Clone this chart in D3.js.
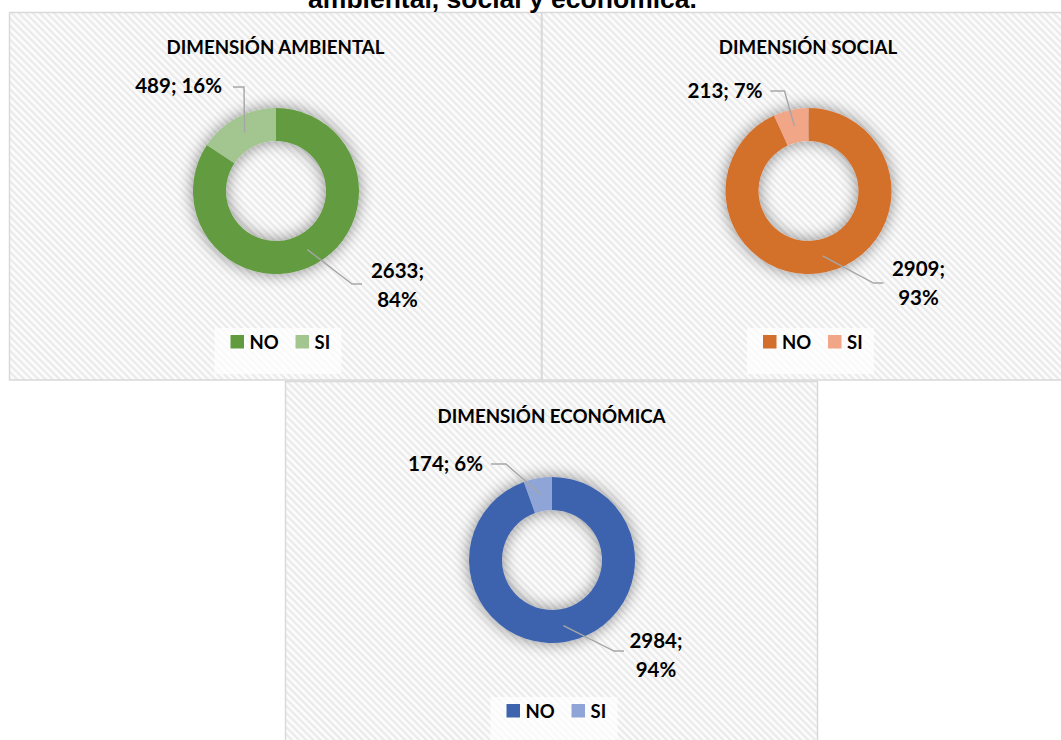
<!DOCTYPE html>
<html>
<head>
<meta charset="utf-8">
<script src="https://cdn.jsdelivr.net/npm/d3@7"></script>
<style>
  body { margin: 0; background: #fff; }
  #chart svg text { font-family: Lato, "Open Sans", sans-serif; font-weight: 700; fill: #000; }
  #chart svg text.page-title { font-family: "Liberation Sans", Arial, sans-serif; }
</style>
</head>
<body>
<div id="chart"></div>
<script>
// data
const pageTitle = "ambiental, social y económica.";
const dimensions = ["DIMENSIÓN AMBIENTAL", "DIMENSIÓN SOCIAL", "DIMENSIÓN ECONÓMICA"];
const categories = ["NO", "SI"];
const noValues = [2633, 2909, 2984];
const siValues = [489, 213, 174];

const palettes = [
    ["#629b3f", "#a3c590"],
    ["#d36f2c", "#f1a688"],
    ["#3e64ae", "#8fa5d7"]
];

// layout
const width = 1061, height = 740;
const panelW = 532, panelH = 367.5;
const panels = [{ x: 9.5, y: 12.5 }, { x: 542, y: 12.5 }, { x: 285.5, y: 381.5 }];
const centre = { x: 266.5, y: 178.5 };
const outerR = 83, innerR = 50;

// label positions relative to the donut centre (Excel placed them by hand)
const labelLayout = [
    { si: [-54, -98], siLine: [[-43, -104], [-32, -104]], no: [121.5, 87], noLine: [[76, 93], [86, 93]] },
    { si: [-46, -93], siLine: [[-38, -100], [-24, -100]], no: [110, 85], noLine: [[65, 92], [75, 92]] },
    { si: [-69, -89], siLine: [[-61, -96], [-46, -96]], no: [104, 88], noLine: [[62, 91], [72, 91]] }
];

const svg = d3.select("#chart").append("svg")
    .attr("width", width)
    .attr("height", height);

const defs = svg.append("defs");

// Excel "wide downward diagonal" background
const pattern = defs.append("pattern")
    .attr("id", "hatch")
    .attr("patternUnits", "userSpaceOnUse")
    .attr("width", 5)
    .attr("height", 5)
    .attr("patternTransform", "rotate(-45)");
pattern.append("rect").attr("width", 5).attr("height", 5).attr("fill", "#fcfcfc");
pattern.append("rect").attr("width", 2.2).attr("height", 5).attr("fill", "#eaeaea");

const shadow = defs.append("filter")
    .attr("id", "shadow")
    .attr("x", "-50%").attr("y", "-50%")
    .attr("width", "200%").attr("height", "200%");
shadow.append("feGaussianBlur").attr("in", "SourceAlpha").attr("stdDeviation", 8);
shadow.append("feComponentTransfer")
    .append("feFuncA").attr("type", "linear").attr("slope", 0.45);
const merge = shadow.append("feMerge");
merge.append("feMergeNode");
merge.append("feMergeNode").attr("in", "SourceGraphic");

const pie = d3.pie().sort(null).value(d => d.value);
const arc = d3.arc().innerRadius(innerR).outerRadius(outerR);
const line = d3.line();
const pct = d3.format(".0%");

dimensions.forEach((title, i) => {
    const p = panels[i];
    const color = d3.scaleOrdinal().domain(categories).range(palettes[i]);
    const total = noValues[i] + siValues[i];
    const data = [
        { key: "NO", value: noValues[i] },
        { key: "SI", value: siValues[i] }
    ];

    const g = svg.append("g").attr("transform", `translate(${p.x},${p.y})`);

    g.append("rect")
        .attr("width", panelW)
        .attr("height", panelH)
        .attr("fill", "url(#hatch)")
        .attr("stroke", "#d9d9d9")
        .attr("stroke-width", 1.5);

    g.append("text")
        .attr("x", panelW / 2)
        .attr("y", 41)
        .attr("text-anchor", "middle")
        .style("font-size", "18.7px")
        .text(title);

    const c = g.append("g").attr("transform", `translate(${centre.x},${centre.y})`);
    const arcs = pie(data);

    c.append("g")
        .attr("filter", "url(#shadow)")
        .selectAll("path")
        .data(arcs)
        .enter()
        .append("path")
        .attr("d", arc)
        .attr("fill", d => color(d.data.key));

    // leader lines + labels
    const lay = labelLayout[i];
    const noArc = arcs[0], siArc = arcs[1];

    c.append("path")
        .attr("d", line([...lay.siLine, arc.centroid(siArc)]))
        .attr("fill", "none")
        .attr("stroke", "#a6a6a6")
        .attr("stroke-width", 1.4);
    c.append("path")
        .attr("d", line([arc.centroid(noArc), ...lay.noLine]))
        .attr("fill", "none")
        .attr("stroke", "#a6a6a6")
        .attr("stroke-width", 1.4);

    c.append("text")
        .attr("x", lay.si[0])
        .attr("y", lay.si[1])
        .attr("text-anchor", "end")
        .style("font-size", "20.5px")
        .text(`${siValues[i]}; ${pct(siValues[i] / total)}`);

    const noText = c.append("text")
        .attr("text-anchor", "middle")
        .style("font-size", "20.5px");
    noText.append("tspan")
        .attr("x", lay.no[0]).attr("y", lay.no[1])
        .text(`${noValues[i]};`);
    noText.append("tspan")
        .attr("x", lay.no[0]).attr("y", lay.no[1] + 29)
        .text(pct(noValues[i] / total));

    // legend
    const legend = g.append("g").attr("transform", `translate(${centre.x + 4.5},${322.5})`);
    legend.append("rect")
        .attr("x", -66).attr("y", -7)
        .attr("width", 127).attr("height", 46)
        .attr("fill", "#fff")
        .attr("opacity", 0.7);
    const items = [{ key: "NO", x: -50, tx: -31 }, { key: "SI", x: 15, tx: 34 }];
    items.forEach(it => {
        legend.append("rect")
            .attr("x", it.x).attr("y", 0)
            .attr("width", 13.5).attr("height", 13.5)
            .attr("fill", color(it.key));
        legend.append("text")
            .attr("x", it.tx).attr("y", 13.5)
            .style("font-size", "18.5px")
            .text(it.key);
    });
});

svg.append("text")
    .attr("class", "page-title")
    .attr("x", 502.5)
    .attr("y", 8)
    .attr("text-anchor", "middle")
    .style("font-size", "26.5px")
    .text(pageTitle);
</script>
</body>
</html>
